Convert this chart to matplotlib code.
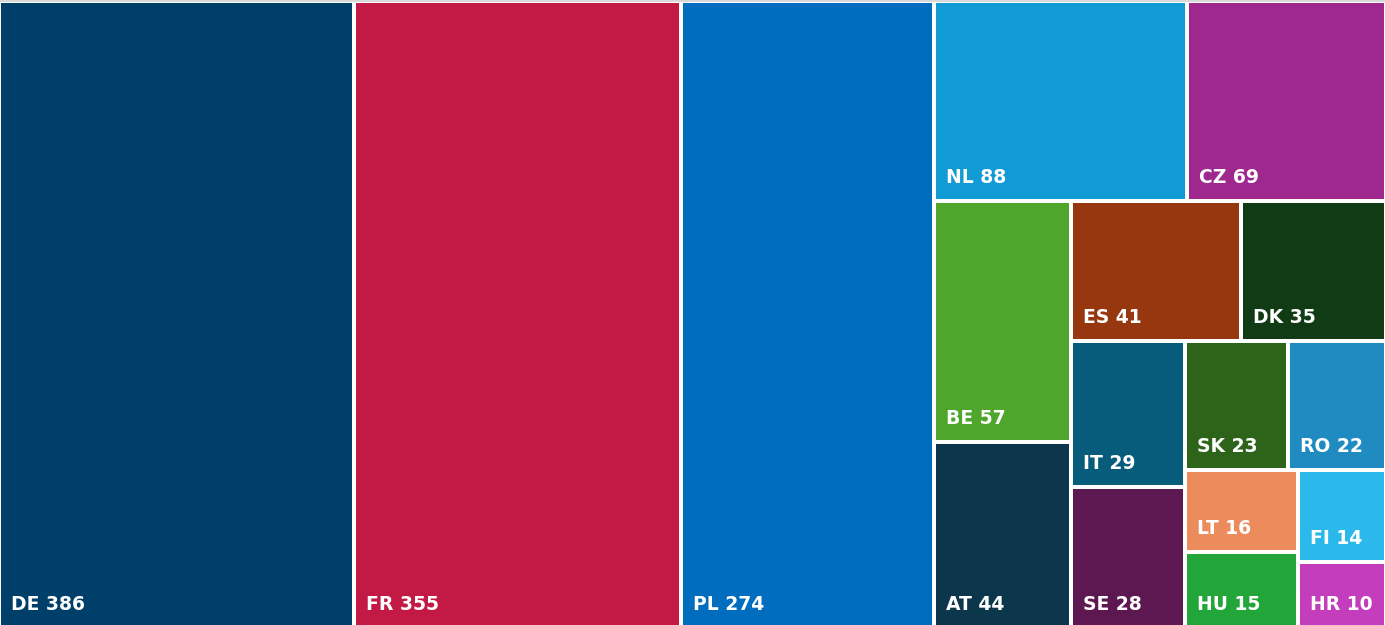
import matplotlib.pyplot as plt
from matplotlib.patches import Rectangle

countries = ["DE", "FR", "PL", "NL", "CZ", "BE", "AT", "ES", "DK",
             "IT", "SE", "SK", "RO", "LT", "HU", "FI", "HR"]
values = [386, 355, 274, 88, 69, 57, 44, 41, 35, 29, 28, 23, 22, 16, 15, 14, 10]
colors = ["#003f69", "#c21a44", "#006dbf", "#119bd4", "#9e288e", "#4ea62c",
          "#0b364c", "#97370f", "#113b14", "#075c7c", "#5e1851", "#2e631a",
          "#1f8bc1", "#ec8b5b", "#22a63a", "#2bb9ec", "#c43dbd"]

W, H = 1385, 625
GAP = 4


def worst(row, side, scale):
    thick = sum(row) * scale / side
    out = 0
    for v in row:
        length = v * scale / thick
        out = max(out, thick / length, length / thick)
    return out


def squarify(vals, x, y, w, h, gain=0.8):
    # squarified layout, only grows a strip when it clearly helps
    scale = w * h / sum(vals)
    rects = []
    i = 0
    while i < len(vals):
        side = min(w, h)
        row = [vals[i]]
        i += 1
        best = worst(row, side, scale)
        while i < len(vals):
            cand = worst(row + [vals[i]], side, scale)
            if cand < best * gain:
                row.append(vals[i])
                best = cand
                i += 1
            else:
                break
        thick = sum(row) * scale / side
        if w >= h:
            yy = y
            for v in row:
                hh = v * scale / thick
                rects.append((x, yy, thick, hh))
                yy += hh
            x += thick
            w -= thick
        else:
            xx = x
            for v in row:
                ww = v * scale / thick
                rects.append((xx, y, ww, thick))
                xx += ww
            y += thick
            h -= thick
    return rects


fig = plt.figure(figsize=(W / 100, H / 100), dpi=100)
ax = fig.add_axes([0, 0, 1, 1])
ax.set_xlim(0, W)
ax.set_ylim(H, 0)
ax.axis("off")

# thin grey border along the top
ax.add_patch(Rectangle((0, 0), W, 2, facecolor="#d9d9d9", edgecolor="none"))

rects = squarify(values, -1, 1, W + 2, H + 2)
for (x, y, w, h), name, val, col in zip(rects, countries, values, colors):
    ax.add_patch(Rectangle((x + GAP / 2, y + GAP / 2), w - GAP, h - GAP,
                           facecolor=col, edgecolor="none"))
    ax.text(x + GAP / 2 + 10, y + h - GAP / 2 - 16, f"{name} {val}",
            color="white", fontsize=13.5, fontweight="bold",
            ha="left", va="baseline", family="DejaVu Sans")

fig.savefig("out.png", dpi=100)
